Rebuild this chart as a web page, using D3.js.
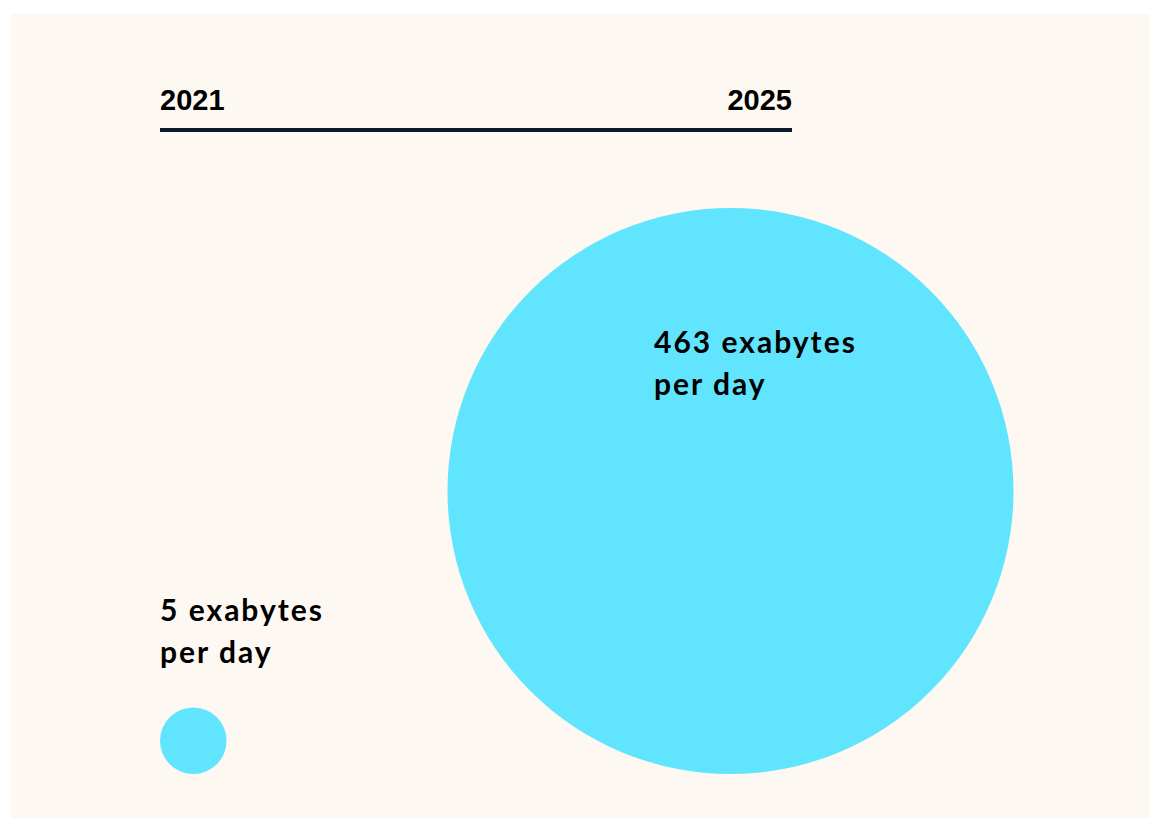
<!DOCTYPE html>
<html>
<head>
<meta charset="utf-8">
<script src="https://cdn.jsdelivr.net/npm/d3@7"></script>
<style>
	body { margin: 0; background: #ffffff; }
	svg { display: block; }
</style>
</head>
<body>
<svg id="chart" width="1150" height="818"></svg>
<script>
// data
const years = [2021, 2025]
const values = [5, 463]
const labelLines = [["5 exabytes", "per day"], ["463 exabytes", "per day"]]

const svg = d3.select("#chart")

// panel background
svg.append("rect")
	.attr("x", 11)
	.attr("y", 14)
	.attr("width", 1139)
	.attr("height", 804)
	.attr("fill", "#fdf9f2")

// timeline scale
let xLine = d3.scaleLinear()
	.domain(d3.extent(years))
	.range([160, 792])

// circle scales
let xCircle = d3.scaleLinear()
	.domain(d3.extent(years))
	.range([193.3, 730.5])

let rScale = d3.scaleSqrt()
	.domain(d3.extent(values))
	.range([33.3, 283])

const baseY = 774

// timeline
svg.append("line")
	.attr("x1", xLine(years[0]))
	.attr("x2", xLine(years[1]))
	.attr("y1", 130)
	.attr("y2", 130)
	.attr("stroke", "#0c1a2b")
	.attr("stroke-width", 4)

svg.selectAll("text.year")
	.data(years)
	.join("text")
	.attr("class", "year")
	.attr("x", d => xLine(d))
	.attr("y", 110)
	.attr("text-anchor", (d, i) => i === 0 ? "start" : "end")
	.attr("font-family", "'Liberation Sans', Arial, sans-serif")
	.attr("font-weight", 700)
	.attr("font-size", 29)
	.attr("fill", "#000")
	.text(d => d)

// bubbles
const data = years.map((y, i) => ({ year: y, value: values[i], lines: labelLines[i] }))

svg.selectAll("circle")
	.data(data)
	.join("circle")
	.attr("cx", d => xCircle(d.year))
	.attr("cy", d => baseY - rScale(d.value))
	.attr("r", d => rScale(d.value))
	.attr("fill", "#61e5ff")

// labels: small one sits above its bubble, big one inside
const labelPos = [
	{ x: 160, y: 621 },
	{ x: 654, y: 353 }
]

data.forEach((d, i) => {
	let t = svg.append("text")
		.attr("x", labelPos[i].x)
		.attr("y", labelPos[i].y)
		.attr("font-family", "Lato, 'Noto Sans', sans-serif")
		.attr("font-weight", 700)
		.attr("font-size", 30)
		.attr("letter-spacing", 2)
		.attr("fill", "#000")
	d.lines.forEach((line, j) => {
		t.append("tspan")
			.attr("x", labelPos[i].x)
			.attr("dy", j === 0 ? 0 : 42)
			.text(line)
	})
})
</script>
</body>
</html>
